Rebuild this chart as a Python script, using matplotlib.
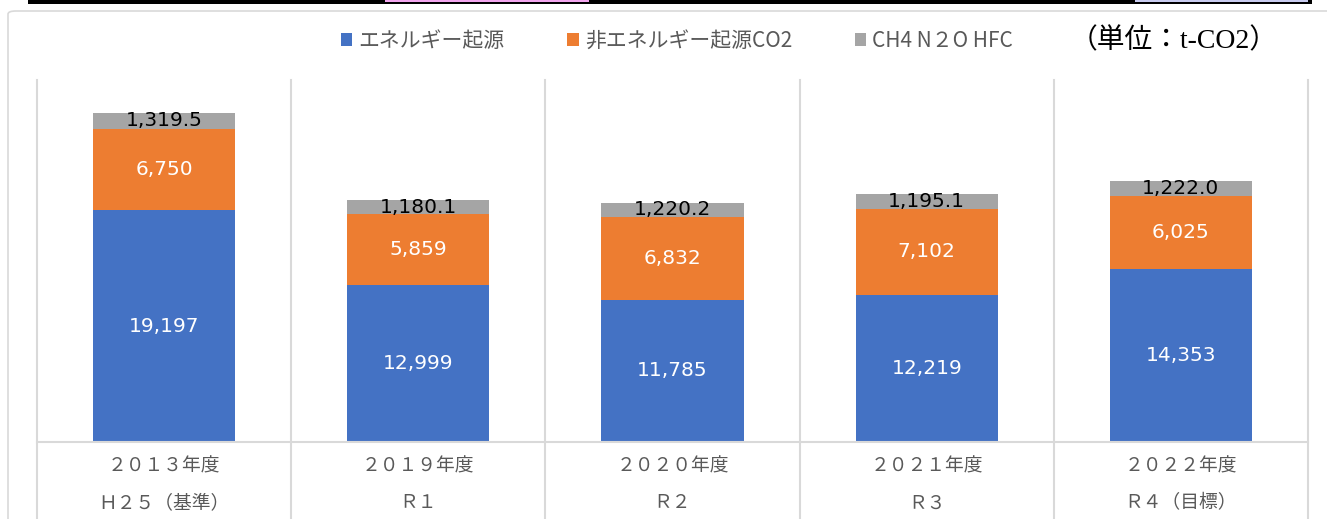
import numpy as np
import matplotlib
matplotlib.use("Agg")
import matplotlib.pyplot as plt
from matplotlib.patches import Rectangle, FancyBboxPatch

plt.rcParams['font.family'] = ['Noto Sans CJK JP', 'DejaVu Sans']

# データ（単位：t-CO2）
years = ['２０１３年度', '２０１９年度', '２０２０年度', '２０２１年度', '２０２２年度']
eras = ['Ｈ２５（基準）', 'Ｒ１', 'Ｒ２', 'Ｒ３', 'Ｒ４（目標）']
energy = [19197, 12999, 11785, 12219, 14353]
non_energy = [6750, 5859, 6832, 7102, 6025]
other_gas = [1319.5, 1180.1, 1220.2, 1195.1, 1222.0]
series_names = ['エネルギー起源', '非エネルギー起源CO2', 'CH4 N２O HFC']
colors = ['#4472C4', '#ED7D31', '#A5A5A5']

W, H = 1327, 519
fig = plt.figure(figsize=(W / 100, H / 100), dpi=100)

# 上端の表の枠（切れ端）とグラフ枠
fig.add_artist(FancyBboxPatch((8 / W, -0.1), 1.2, (519 - 11) / H + 0.1,
                              boxstyle='round,pad=0,rounding_size=0.006',
                              transform=fig.transFigure, fc='none',
                              ec='#d9d9d9', lw=1.2, zorder=-1))
fig.add_artist(Rectangle((28 / W, (H - 4) / H), (1312 - 28) / W, 4 / H,
                         transform=fig.transFigure, fc='black', ec='none'))
fig.add_artist(Rectangle((385 / W, (H - 2) / H), (589 - 385) / W, 2 / H,
                         transform=fig.transFigure, fc='#f2a6ee', ec='none'))
fig.add_artist(Rectangle((1135 / W, (H - 2) / H), (1308 - 1135) / W, 2 / H,
                         transform=fig.transFigure, fc='#c8cbef', ec='none'))

ax = fig.add_axes([37 / W, (H - 442) / H, (1308 - 37) / W, (442 - 80) / H])
ax.set_facecolor('none')

x = np.arange(len(years))
bw = 0.56
b1 = ax.bar(x, energy, bw, color=colors[0], label=series_names[0])
b2 = ax.bar(x, non_energy, bw, bottom=energy, color=colors[1], label=series_names[1])
bottom2 = np.array(energy) + np.array(non_energy)
b3 = ax.bar(x, other_gas, bw, bottom=bottom2, color=colors[2], label=series_names[2])

ax.bar_label(b1, labels=[f'{v:,.0f}' for v in energy], label_type='center',
             color='white', fontsize=14.5, family='DejaVu Sans')
ax.bar_label(b2, labels=[f'{v:,.0f}' for v in non_energy], label_type='center',
             color='white', fontsize=14.5, family='DejaVu Sans')
ax.bar_label(b3, labels=[f'{v:,.1f}' for v in other_gas], label_type='center',
             color='black', fontsize=14.5, family='DejaVu Sans')

ax.set_xlim(-0.5, len(years) - 0.5)
ax.set_ylim(0, 30000)
for s in ['top', 'left', 'right']:
    ax.spines[s].set_visible(False)
ax.spines['bottom'].set_color('#d9d9d9')
ax.spines['bottom'].set_linewidth(1.5)
ax.set_yticks([])
ax.set_xticks([])

# 区切り線（軸の下まで延ばす）
tr = ax.get_xaxis_transform()
for b in np.arange(-0.5, len(years), 1.0):
    ax.plot([b, b], [-0.22, 1.0], color='#d9d9d9', lw=1.5, transform=tr,
            clip_on=False, zorder=0)

for i in range(len(years)):
    ax.text(x[i], -(466 - 442) / 362, years[i], transform=tr, ha='center',
            va='center', fontsize=13.5, color='#595959')
    ax.text(x[i], -(503 - 442) / 362, eras[i], transform=tr, ha='center',
            va='center', fontsize=13.5, color='#595959')

ax.legend(loc='center', bbox_to_anchor=(677 / W, (H - 41) / H),
          bbox_transform=fig.transFigure, ncol=3, frameon=False,
          handlelength=0.55, handleheight=0.55, handletextpad=0.3,
          columnspacing=3.0, fontsize=15, labelcolor='#595959')

fig.text(1070 / W, (H - 41) / H, '（単位：t-CO2）', ha='left', va='center',
         fontsize=20, color='black', family=['Liberation Serif', 'Noto Sans CJK JP'])

fig.savefig('out.png', dpi=100)
